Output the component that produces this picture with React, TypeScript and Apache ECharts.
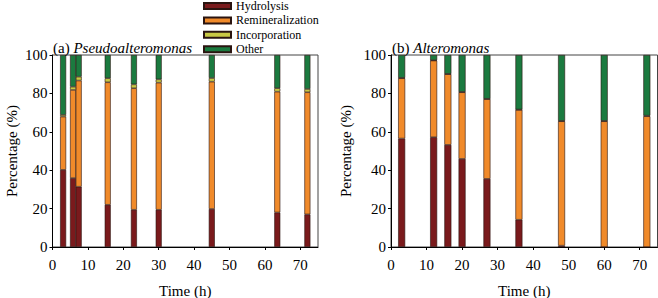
import React, { useEffect, useRef } from "react";
import * as echarts from "echarts";

const seriesNames = ["Hydrolysis", "Remineralization", "Incorporation", "Other"];
const colors = ["#7a1a1c", "#f08a2a", "#c8c844", "#1b7a3f"];

const xTicks = [0, 10, 20, 30, 40, 50, 60, 70];
const yTicks = [0, 20, 40, 60, 80, 100];

const leftTimes = [3, 5.8, 7.4, 15.6, 23, 30, 45, 63.5, 72];
const leftHydrolysis = [40.2, 35.9, 31.4, 22.0, 19.4, 19.4, 19.8, 18.0, 17.0];
const leftRemineralization = [27.7, 45.9, 55.3, 63.8, 63.3, 66.2, 66.3, 62.9, 63.6];
const leftIncorporation = [0.9, 1.7, 2.0, 2.1, 2.0, 1.7, 1.9, 1.8, 1.7];
const leftOther = [31.2, 16.5, 11.3, 12.1, 15.3, 12.7, 12.0, 17.3, 17.7];

const rightTimes = [3, 12, 16, 20, 27, 36, 48, 60, 72];
const rightHydrolysis = [56.5, 57.2, 53.2, 45.9, 35.5, 14.2, 0.7, 0, 0];
const rightRemineralization = [31.4, 39.9, 36.8, 34.7, 41.5, 57.2, 64.8, 65.5, 68.1];
const rightIncorporation = [0.2, 0.2, 0.2, 0.2, 0.2, 0.2, 0.2, 0.2, 0.3];
const rightOther = [11.9, 2.7, 9.8, 19.2, 22.8, 28.4, 34.3, 34.3, 31.6];

const FONT = "'Liberation Serif', 'Times New Roman', serif";

export default function App() {
  const ref = useRef<HTMLDivElement>(null);
  useEffect(() => {
    if (!ref.current) return;
    const chart = echarts.init(ref.current, null, { renderer: "svg" });
    const leftData = [leftHydrolysis, leftRemineralization, leftIncorporation, leftOther];
    const rightData = [rightHydrolysis, rightRemineralization, rightIncorporation, rightOther];

    const mkX = (gridIndex: number) => ({
      type: "value",
      gridIndex,
      min: 0,
      max: 75,
      interval: 10,
      name: "Time (h)",
      nameLocation: "middle",
      nameGap: 36,
      nameTextStyle: { fontFamily: FONT, fontSize: 15, color: "#000" },
      axisLine: { show: true, lineStyle: { color: "#000", width: 1 } },
      axisTick: { show: true, length: 3, customValues: xTicks, lineStyle: { color: "#000" } },
      axisLabel: {
        customValues: xTicks,
        fontFamily: FONT,
        fontSize: 15,
        color: "#000",
        margin: 10,
      },
      splitLine: { show: false },
    });
    const mkY = (gridIndex: number, nameGap: number) => ({
      type: "value",
      gridIndex,
      min: 0,
      max: 100,
      interval: 20,
      name: "Percentage (%)",
      nameLocation: "middle",
      nameGap,
      nameTextStyle: { fontFamily: FONT, fontSize: 15, color: "#000" },
      axisLine: { show: true, lineStyle: { color: "#000", width: 1 } },
      axisTick: { show: true, length: 3, customValues: yTicks, lineStyle: { color: "#000" } },
      axisLabel: {
        fontFamily: FONT,
        fontSize: 15,
        color: "#000",
        margin: 5,
      },
      splitLine: { show: false },
    });

    // value first, time second so that the stack is computed on the percentage dimension
    const mkSeries = (
      times: number[],
      data: number[][],
      axisIndex: number,
      stack: string,
      barWidth: number
    ) =>
      data.map((vals, i) => ({
        type: "bar",
        name: seriesNames[i],
        xAxisIndex: axisIndex,
        yAxisIndex: axisIndex,
        stack,
        barWidth,
        encode: { x: 1, y: 0 },
        data: times.map((t, j) => [vals[j], t]),
        itemStyle: { color: colors[i], borderColor: "#2a1410", borderWidth: 0.6 },
      }));

    const richTitle = {
      n: { fontFamily: FONT, fontSize: 15, color: "#000", fontWeight: "normal" },
      i: { fontFamily: FONT, fontSize: 15, color: "#000", fontStyle: "italic", fontWeight: "normal" },
    };

    chart.setOption({
      animation: false,
      textStyle: { fontFamily: FONT },
      legend: {
        orient: "vertical",
        left: 203,
        top: -1,
        padding: 0,
        itemWidth: 27,
        itemHeight: 6,
        itemGap: 0.4,
        icon: "rect",
        data: seriesNames,
        textStyle: { fontFamily: FONT, fontSize: 12, color: "#000", lineHeight: 14 },
      },
      title: [
        {
          left: 53,
          top: 40,
          padding: 0,
          text: "{n|(a) }{i|Pseudoalteromonas}",
          textStyle: { fontWeight: "normal", rich: richTitle },
        },
        {
          left: 392,
          top: 40,
          padding: 0,
          text: "{n|(b) }{i|Alteromonas}",
          textStyle: { fontWeight: "normal", rich: richTitle },
        },
      ],
      grid: [
        {
          left: 52.5,
          right: 340,
          top: 55,
          bottom: 51,
          outerBoundsMode: "none",
          containLabel: false,
          show: true,
          borderColor: "#444",
          borderWidth: 1,
        },
        {
          left: 391,
          right: 0.5,
          top: 55,
          bottom: 51,
          outerBoundsMode: "none",
          containLabel: false,
          show: true,
          borderColor: "#444",
          borderWidth: 1,
        },
      ],
      xAxis: [mkX(0), mkX(1)],
      yAxis: [mkY(0, 33), mkY(1, 38)],
      series: [
        ...mkSeries(leftTimes, leftData, 0, "a", 6),
        ...mkSeries(rightTimes, rightData, 1, "b", 7),
      ],
    });
    return () => chart.dispose();
  }, []);
  return <div ref={ref} style={{ width: 658, height: 298, position: "absolute", left: 0, top: 0 }} />;
}
